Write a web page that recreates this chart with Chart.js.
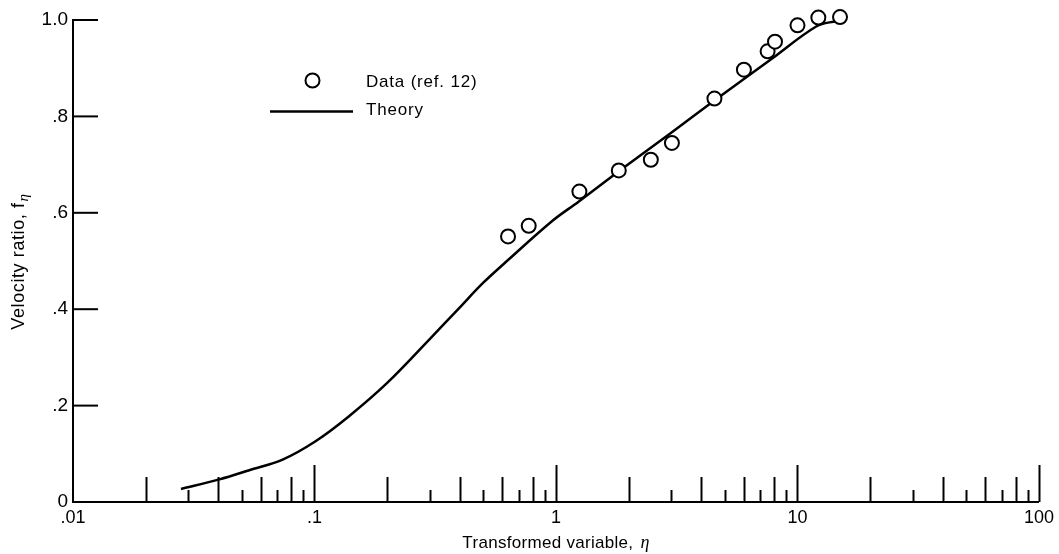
<!DOCTYPE html>
<html>
<head>
<meta charset="utf-8">
<script src="https://cdn.jsdelivr.net/npm/chart.js@4"></script>
<style>
  html, body { margin: 0; padding: 0; background: #fff; }
  #chart { display: block; }
</style>
</head>
<body>
<canvas id="chart" width="1059" height="554"></canvas>
<script>
const dataEta = [0.633, 0.771, 1.25, 1.82, 2.47, 3.02, 4.53, 6.0, 7.52, 8.07, 10.0, 12.2, 15.0];
const dataF = [0.551, 0.573, 0.644, 0.688, 0.710, 0.745, 0.837, 0.897, 0.935, 0.955, 0.989, 1.005, 1.006];

const theoryEta = [0.028, 0.0404, 0.0537, 0.0738, 0.101, 0.139, 0.2, 0.3, 0.4, 0.5, 0.633, 0.97, 1.24, 1.82, 3.0, 4.5, 7.8, 12.0, 14.5];
const theoryF = [0.027, 0.047, 0.066, 0.088, 0.126, 0.178, 0.247, 0.338, 0.404, 0.455, 0.502, 0.584, 0.623, 0.686, 0.766, 0.832, 0.919, 0.987, 0.998];

const xTickValues = [0.01, 0.1, 1, 10, 100];
const xTickLabels = ['.01', '.1', '1', '10', '100'];
const yTickValues = [0, 0.2, 0.4, 0.6, 0.8, 1.0];
const yTickLabels = ['0', '.2', '.4', '.6', '.8', '1.0'];

const legendLabels = ['Data (ref. 12)', 'Theory'];
const xTitle = 'Transformed variable, ';
const yTitle = 'Velocity ratio, f';

const sans = "'Liberation Sans', Arial, sans-serif";
const greek = "italic 18px 'Liberation Serif', serif";

// little upward tick marks along the x axis + inward y ticks, legend and titles
const decor = {
    id: 'decor',
    afterDraw(chart) {
        const ctx = chart.ctx;
        const xs = chart.scales.x, ys = chart.scales.y;
        const base = ys.getPixelForValue(0);
        ctx.save();
        ctx.strokeStyle = '#000';
        ctx.lineWidth = 2;

        // x ticks: decade = long, even = medium, odd = short
        for (let d = 0.01; d < 99; d *= 10) {
            for (let m = 2; m <= 10; m++) {
                const px = Math.round(xs.getPixelForValue(d * m)) + 0.5;
                const h = m === 10 ? 37 : (m % 2 === 0 ? 25 : 12);
                ctx.beginPath();
                ctx.moveTo(px, base);
                ctx.lineTo(px, base - h);
                ctx.stroke();
            }
        }

        // y ticks pointing into the plot
        yTickValues.forEach(v => {
            if (v === 0) return;
            const py = ys.getPixelForValue(v);
            ctx.beginPath();
            ctx.moveTo(xs.left, py);
            ctx.lineTo(xs.left + 25, py);
            ctx.stroke();
        });

        // legend
        ctx.lineWidth = 2;
        ctx.beginPath();
        ctx.arc(312.5, 80.5, 7, 0, Math.PI * 2);
        ctx.stroke();
        ctx.lineWidth = 2.5;
        ctx.beginPath();
        ctx.moveTo(270, 111.5);
        ctx.lineTo(353, 111.5);
        ctx.stroke();

        ctx.fillStyle = '#000';
        ctx.textBaseline = 'middle';
        ctx.textAlign = 'left';
        ctx.font = '17px ' + sans;
        ctx.letterSpacing = '0.8px';
        ctx.fillText(legendLabels[0], 366, 82);
        ctx.fillText(legendLabels[1], 366, 110);

        // x title with italic eta
        ctx.textBaseline = 'alphabetic';
        ctx.letterSpacing = '0.3px';
        ctx.font = '17px ' + sans;
        const w1 = ctx.measureText(xTitle).width;
        ctx.font = greek;
        const w2 = ctx.measureText('η').width;
        const sx = 555 - (w1 + w2) / 2;
        ctx.font = '17px ' + sans;
        ctx.fillText(xTitle, sx, 548);
        ctx.font = greek;
        ctx.fillText('η', sx + w1 + 2, 548);

        // y title, rotated, with subscript eta
        ctx.translate(24, 262);
        ctx.rotate(-Math.PI / 2);
        ctx.letterSpacing = '0.6px';
        ctx.font = '18px ' + sans;
        const w3 = ctx.measureText(yTitle).width;
        ctx.font = "italic 15px 'Liberation Serif', serif";
        const w4 = ctx.measureText('η').width;
        const sy = -(w3 + w4) / 2;
        ctx.font = '18px ' + sans;
        ctx.fillText(yTitle, sy, 0);
        ctx.font = "italic 15px 'Liberation Serif', serif";
        ctx.fillText('η', sy + w3 + 1, 4);
        ctx.restore();
    }
};

const ctx = document.getElementById('chart').getContext('2d');
new Chart(ctx, {
    type: 'scatter',
    data: {
        datasets: [
            {
                label: legendLabels[0],
                data: dataEta.map((x, i) => ({ x: x, y: dataF[i] })),
                pointRadius: 7,
                pointBorderWidth: 2,
                borderColor: '#000',
                backgroundColor: '#fff',
                clip: false,
                order: 0,
            },
            {
                label: legendLabels[1],
                type: 'line',
                data: theoryEta.map((x, i) => ({ x: x, y: theoryF[i] })),
                showLine: true,
                borderColor: '#000',
                borderWidth: 2.5,
                pointRadius: 0,
                tension: 0.35,
                fill: false,
                clip: false,
                order: 1,
            },
        ],
    },
    options: {
        responsive: false,
        animation: false,
        layout: { padding: { top: 20, right: 18, left: 0, bottom: 0 } },
        plugins: {
            legend: { display: false },
            tooltip: { enabled: false },
        },
        scales: {
            x: {
                type: 'logarithmic',
                min: 0.01,
                max: 100,
                afterBuildTicks: (s) => { s.ticks = xTickValues.map(v => ({ value: v })); },
                afterFit: (s) => { s.height = 52; },
                ticks: {
                    autoSkip: false,
                    maxRotation: 0,
                    padding: 5,
                    color: '#000',
                    font: { family: sans, size: 18 },
                    callback: (v, i) => xTickLabels[i],
                },
                grid: { display: false, drawTicks: false },
                border: { display: true, color: '#000', width: 2 },
            },
            y: {
                min: 0,
                max: 1,
                afterBuildTicks: (s) => { s.ticks = yTickValues.map(v => ({ value: v })); },
                afterFit: (s) => { s.width = 73; },
                ticks: {
                    padding: 5,
                    color: '#000',
                    font: { family: sans, size: 19 },
                    callback: (v, i) => yTickLabels[i],
                },
                grid: { display: false, drawTicks: false },
                border: { display: true, color: '#000', width: 2 },
            },
        },
    },
    plugins: [decor],
});
</script>
</body>
</html>
